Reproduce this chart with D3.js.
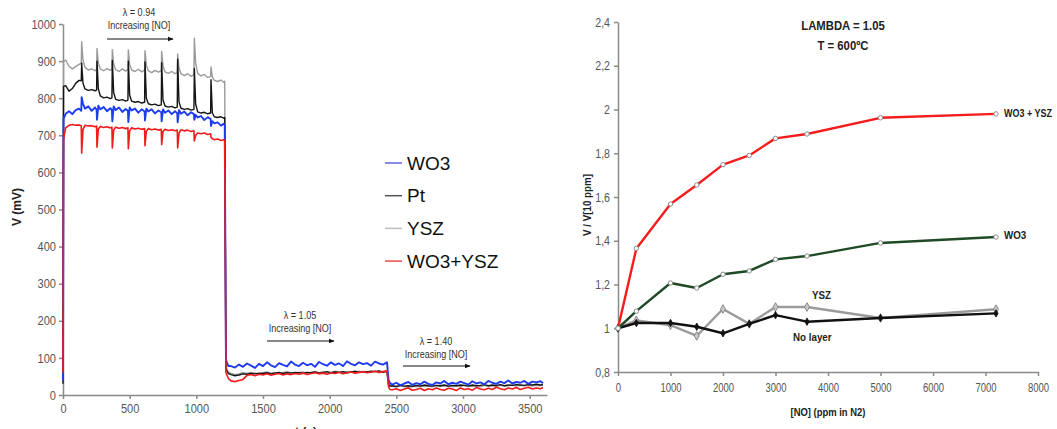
<!DOCTYPE html>
<html>
<head>
<meta charset="utf-8">
<script src="https://cdn.jsdelivr.net/npm/d3@7"></script>
<style>
  body { margin: 0; background: #fff; }
  svg { display: block; }
  .tickL text, .tickR text { font-family: "Liberation Sans", Arial, sans-serif; fill: #555; }
  .bold { font-family: "Liberation Sans", Arial, sans-serif; font-weight: bold; fill: #222; }
</style>
</head>
<body>
<div id="chart"></div>
<script>
// ---------- data: left panel (time trace, mV) ----------
var timeSec = [
  0, 4, 20, 45, 70, 95, 120, 137,
  140, 150, 165, 190, 215, 240, 252,
  255, 265, 280, 305, 330, 355, 367,
  370, 380, 395, 420, 445, 470, 487,
  490, 500, 515, 540, 565, 590, 612,
  615, 625, 640, 665, 690, 715, 737,
  740, 750, 765, 790, 815, 840, 857,
  860, 870, 885, 910, 935, 960, 982,
  985, 995, 1010, 1035, 1060, 1085, 1107,
  1110, 1120, 1135, 1160, 1185, 1205, 1213,
  1222, 1240,
  1260, 1290, 1320, 1350, 1380, 1410, 1440, 1470, 1500, 1530,
  1560, 1590, 1620, 1650, 1680, 1710, 1740, 1770, 1800, 1830,
  1860, 1890, 1920, 1950, 1980, 2010, 2040, 2070, 2100, 2130,
  2160, 2190, 2220, 2250, 2280, 2310, 2340, 2370, 2400, 2430,
  2442, 2452,
  2470, 2500, 2530, 2560, 2590, 2620, 2650, 2680, 2710, 2740,
  2770, 2800, 2830, 2860, 2890, 2920, 2950, 2980, 3010, 3040,
  3070, 3100, 3130, 3160, 3190, 3220, 3250, 3280, 3310, 3340,
  3370, 3400, 3430, 3460, 3490, 3520, 3550, 3580, 3600
];

var ysz = [
  60, 898, 903, 886, 879, 885, 891, 894,
  952, 903, 883, 876, 879, 874, 878,
  934, 894, 879, 874, 880, 875, 879,
  931, 892, 877, 872, 879, 873, 878,
  930, 891, 876, 872, 878, 871, 876,
  928, 889, 874, 869, 875, 870, 874,
  926, 887, 871, 867, 872, 866, 869,
  919, 882, 866, 861, 866, 859, 863,
  962, 894, 867, 860, 864, 856, 858,
  884, 857, 848, 845, 849, 843, 846,
  75, 62,
  58, 55, 57, 60, 58, 61, 59, 57, 60, 62,
  59, 61, 58, 60, 63, 60, 58, 61, 62, 59,
  61, 63, 60, 62, 59, 61, 64, 62, 60, 63,
  61, 62, 64, 61, 63, 62, 64, 63, 61, 63,
  30, 25,
  24, 22, 25, 23, 21, 24, 22, 25, 23, 24,
  22, 26, 23, 25, 24, 22, 25, 23, 26, 24,
  23, 25, 22, 26, 24, 25, 23, 26, 24, 25,
  27, 24, 26, 25, 27, 24, 26, 25, 27
];

var pt = [
  30, 832, 834, 819, 826, 840, 848, 847,
  895, 840, 825, 821, 823, 820, 822,
  900, 825, 806, 801, 803, 799, 801,
  902, 815, 797, 794, 796, 792, 795,
  900, 808, 792, 789, 791, 787, 789,
  898, 800, 785, 782, 784, 780, 782,
  896, 795, 779, 776, 778, 774, 776,
  905, 790, 773, 770, 772, 768, 770,
  880, 785, 763, 760, 762, 758, 760,
  850, 760, 750, 748, 750, 746, 748,
  70, 58,
  55, 52, 54, 57, 56, 58, 57, 59, 58, 60,
  57, 59, 61, 58, 60, 59, 61, 60, 58, 61,
  60, 62, 59, 61, 63, 60, 62, 61, 63, 60,
  62, 64, 61, 63, 62, 64, 63, 65, 62, 64,
  28, 24,
  25, 23, 26, 24, 25, 23, 26, 24, 27, 25,
  24, 26, 25, 27, 24, 26, 25, 27, 26, 24,
  27, 25, 26, 28, 25, 27, 26, 28, 25, 27,
  26, 28, 27, 26, 28, 27, 29, 27, 28
];

var wo3 = [
  40, 745, 758, 765, 757, 768, 772, 766,
  803, 785, 772, 778, 766, 775, 769,
  742, 780, 770, 776, 765, 773, 768,
  738, 778, 768, 775, 763, 771, 766,
  736, 775, 767, 772, 761, 770, 764,
  740, 772, 764, 770, 759, 767, 762,
  738, 770, 761, 767, 757, 765, 759,
  735, 768, 758, 764, 754, 762, 757,
  742, 755, 748, 752, 741, 749, 744,
  725, 738, 732, 735, 726, 731, 728,
  95, 78,
  78, 74, 82, 76, 85, 79, 73, 84, 78, 88,
  80, 75, 86, 81, 77, 90, 82, 78, 87, 80,
  84, 76, 89, 83, 79, 88, 81, 85, 78, 91,
  84, 80, 88, 83, 86, 79, 90, 85, 82, 88,
  40, 32,
  28, 33, 26, 31, 35, 27, 32, 29, 36, 30,
  27, 34, 31, 38, 29, 33, 30, 36, 32, 28,
  37, 31, 34, 29, 38, 33, 30, 36, 32, 39,
  31, 35, 33, 38, 30, 36, 34, 37, 32
];

var wo3ysz = [
  60, 690, 720, 727, 729, 727, 728, 726,
  652, 716, 727, 725, 726, 723, 725,
  668, 717, 724, 721, 723, 720, 722,
  666, 714, 722, 719, 721, 718, 720,
  664, 712, 720, 717, 719, 716, 718,
  672, 711, 718, 715, 717, 714, 716,
  675, 710, 716, 713, 715, 712, 714,
  666, 706, 715, 712, 714, 710, 712,
  685, 700, 706, 704, 706, 702, 704,
  695, 691, 688, 690, 686, 688, 687,
  60, 45,
  38, 36, 39, 42, 53, 55, 52, 56, 54, 57,
  53, 56, 58, 54, 57, 55, 58, 56, 59, 55,
  58, 60, 57, 59, 56, 60, 58, 61, 57, 60,
  62, 59, 61, 63, 60, 62, 64, 61, 63, 65,
  22, 15,
  14, 17, 12, 16, 19, 13, 15, 18, 12, 17,
  14, 19, 15, 13, 18, 16, 12, 19, 15, 17,
  13, 20, 16, 14, 18, 15, 21, 17, 14, 19,
  16, 20, 15, 18, 21, 16, 19, 17, 20
];

var leftTicksY = [0, 100, 200, 300, 400, 500, 600, 700, 800, 900, 1000];
var leftTicksX = [0, 500, 1000, 1500, 2000, 2500, 3000, 3500];
var legendNames = ["WO3", "Pt", "YSZ", "WO3+YSZ"];

// ---------- data: right panel (V / V[10 ppm]) ----------
var noPpm = [0, 350, 1000, 1500, 2000, 2500, 3000, 3600, 5000, 7200];
var ratioWo3Ysz = [1.0, 1.365, 1.568, 1.655, 1.748, 1.79, 1.868, 1.888, 1.962, 1.98];
var ratioWo3 = [1.0, 1.078, 1.207, 1.184, 1.247, 1.262, 1.315, 1.33, 1.39, 1.417];
var ratioYsz = [1.0, 1.036, 1.014, 0.965, 1.088, 1.02, 1.097, 1.097, 1.047, 1.087];
var ratioNoLayer = [1.0, 1.024, 1.024, 1.007, 0.977, 1.02, 1.06, 1.03, 1.047, 1.068];
var rightTicksY = [0.8, 1.0, 1.2, 1.4, 1.6, 1.8, 2.0, 2.2, 2.4];
var rightTicksX = [0, 1000, 2000, 3000, 4000, 5000, 6000, 7000, 8000];

var width = 1057, height = 429;

var svg = d3.select("#chart")
    .append("svg")
    .attr("width", width)
    .attr("height", height);

// squeeze text horizontally (no narrow font installed)
function narrow(sel, f) {
  sel.each(function() {
    var len = this.getComputedTextLength();
    d3.select(this)
        .attr("textLength", len * f)
        .attr("lengthAdjust", "spacingAndGlyphs");
  });
}

svg.append("defs").append("marker")
    .attr("id", "arrow")
    .attr("viewBox", "0 0 10 10")
    .attr("refX", 9).attr("refY", 5)
    .attr("markerWidth", 6).attr("markerHeight", 6)
    .attr("orient", "auto")
    .append("path")
    .attr("d", "M0,1 L10,5 L0,9 Z")
    .attr("fill", "#111");

// ================= LEFT PANEL =================
var xL = d3.scaleLinear().domain([0, 3630]).range([63, 547]);
var yL = d3.scaleLinear().domain([0, 1000]).range([395, 24]);

var gyL = svg.append("g")
    .attr("class", "tickL")
    .attr("transform", "translate(63,0)")
    .call(d3.axisLeft(yL).tickValues(leftTicksY).tickSize(4).tickSizeOuter(0)
      .tickFormat(d3.format("d")));
gyL.selectAll("text").attr("font-size", 13).attr("x", -7).call(narrow, 0.85);

var gxL = svg.append("g")
    .attr("class", "tickL")
    .attr("transform", "translate(0,395)")
    .call(d3.axisBottom(xL).tickValues(leftTicksX).tickSize(4).tickSizeOuter(0)
      .tickFormat(d3.format("d")));
gxL.selectAll("text").attr("font-size", 13).attr("y", 9).call(narrow, 0.85);

svg.selectAll(".tickL path, .tickL line").attr("stroke", "#8a8a8a").attr("stroke-width", 1.5);

// traces
var traceLine = d3.line()
    .x(function(d) { return xL(d[0]); })
    .y(function(d) { return yL(d[1]); });

var traces = [
  { vals: ysz, color: "#9a9a9a", w: 1.4 },
  { vals: pt, color: "#151515", w: 1.4 },
  { vals: wo3, color: "#1d3cf2", w: 1.9 },
  { vals: wo3ysz, color: "#f21a1a", w: 1.6 }
];

traces.forEach(function(tr) {
  var pts = timeSec.map(function(t, i) { return [t, tr.vals[i]]; });
  svg.append("path")
      .datum(pts)
      .attr("d", traceLine)
      .attr("fill", "none")
      .attr("stroke", tr.color)
      .attr("stroke-width", tr.w)
      .attr("stroke-linejoin", "round");
});

// axis titles
svg.append("text")
    .attr("class", "bold")
    .attr("transform", "translate(21,207) rotate(-90)")
    .attr("text-anchor", "middle")
    .attr("font-size", 12)
    .text("V (mV)");

// the x title sits mostly below the bottom edge, as in the source image
svg.append("text")
    .attr("class", "bold")
    .attr("x", 306).attr("y", 436)
    .attr("text-anchor", "middle")
    .attr("font-size", 12)
    .text("t (s)");

// annotations (lambda + arrow)
var notes = [
  { lam: "λ = 0.94", x: 139, y: 16, ax0: 107, ax1: 173, ay: 39 },
  { lam: "λ = 1.05", x: 300, y: 319, ax0: 267, ax1: 334, ay: 341 },
  { lam: "λ = 1.40", x: 436, y: 345, ax0: 403, ax1: 470, ay: 366 }
];

notes.forEach(function(n) {
  var g = svg.append("g").attr("font-family", "'Liberation Sans', Arial, sans-serif")
      .attr("font-size", 10.5).attr("fill", "#333").attr("text-anchor", "middle");
  g.append("text").attr("x", n.x).attr("y", n.y).text(n.lam);
  g.append("text").attr("x", n.x).attr("y", n.y + 13).text("Increasing [NO]");
  g.selectAll("text").call(narrow, 0.86);
  svg.append("line")
      .attr("x1", n.ax0).attr("x2", n.ax1)
      .attr("y1", n.ay).attr("y2", n.ay)
      .attr("stroke", "#111").attr("stroke-width", 1)
      .attr("marker-end", "url(#arrow)");
});

// legend
var legendColors = ["#6464e6", "#555555", "#bdbdbd", "#ec4a4a"];
var legend = svg.append("g").attr("transform", "translate(385,163)");
legend.append("rect")
    .attr("x", -6).attr("y", -16).attr("width", 120).attr("height", 128)
    .attr("fill", "#fff");
legendNames.forEach(function(name, i) {
  legend.append("line")
      .attr("x1", 0).attr("x2", 17)
      .attr("y1", i * 32.7).attr("y2", i * 32.7)
      .attr("stroke", legendColors[i]).attr("stroke-width", 1.5);
  legend.append("text")
      .attr("x", 22).attr("y", i * 32.7)
      .attr("dy", "0.35em")
      .attr("font-family", "'Liberation Sans', Arial, sans-serif")
      .attr("font-size", 19)
      .attr("fill", "#111")
      .text(name);
});

// ================= RIGHT PANEL =================
var xR = d3.scaleLinear().domain([0, 8000]).range([618, 1038]);
var yR = d3.scaleLinear().domain([0.8, 2.4]).range([372, 22]);

var gyR = svg.append("g")
    .attr("class", "tickR")
    .attr("transform", "translate(618,0)")
    .call(d3.axisLeft(yR).tickValues(rightTicksY).tickSize(4).tickSizeOuter(0)
      .tickFormat(function(d) { return String(+d.toFixed(1)).replace(".", ","); }));
gyR.selectAll("text").attr("font-size", 12.5).attr("x", -8).call(narrow, 0.85);

var gxR = svg.append("g")
    .attr("class", "tickR")
    .attr("transform", "translate(0,372)")
    .call(d3.axisBottom(xR).tickValues(rightTicksX).tickSize(4).tickSizeOuter(0)
      .tickFormat(d3.format("d")));
gxR.selectAll("text").attr("font-size", 12.5).attr("y", 11).call(narrow, 0.76);

svg.selectAll(".tickR path, .tickR line").attr("stroke", "#8a8a8a").attr("stroke-width", 1.5);

var ratioLine = d3.line()
    .x(function(d) { return xR(d[0]); })
    .y(function(d) { return yR(d[1]); });

var ratioSeries = [
  { vals: ratioYsz, color: "#9b9b9b", marker: "diamond" },
  { vals: ratioNoLayer, color: "#111111", marker: "diamondDark" },
  { vals: ratioWo3, color: "#1e4a25", marker: "circle" },
  { vals: ratioWo3Ysz, color: "#f51c1c", marker: "circle" }
];

ratioSeries.forEach(function(s) {
  var pts = noPpm.map(function(p, i) { return [p, s.vals[i]]; });
  svg.append("path")
      .datum(pts)
      .attr("d", ratioLine)
      .attr("fill", "none")
      .attr("stroke", s.color)
      .attr("stroke-width", 2.4)
      .attr("stroke-linejoin", "round");

  if (s.marker === "circle") {
    svg.selectAll(null).data(pts).enter()
        .append("circle")
        .attr("cx", function(d) { return xR(d[0]); })
        .attr("cy", function(d) { return yR(d[1]); })
        .attr("r", 2.2)
        .attr("fill", "#fff")
        .attr("stroke", "#8c8c8c")
        .attr("stroke-width", 1);
  } else {
    svg.selectAll(null).data(pts).enter()
        .append("path")
        .attr("transform", function(d) { return "translate(" + xR(d[0]) + "," + yR(d[1]) + ")"; })
        .attr("d", d3.symbol().type(d3.symbolDiamond).size(s.marker === "diamond" ? 22 : 16))
        .attr("fill", s.marker === "diamond" ? "#c8c8c8" : "#111")
        .attr("stroke", s.marker === "diamond" ? "#777" : "#111")
        .attr("stroke-width", 0.8);
  }
});

// series labels
var seriesLabels = [
  { text: "WO3 + YSZ", x: 1004, y: 117, f: 0.78 },
  { text: "WO3", x: 1004, y: 239, f: 0.85 },
  { text: "YSZ", x: 812, y: 299, f: 0.85 },
  { text: "No layer", x: 793, y: 341, f: 0.85 }
];
seriesLabels.forEach(function(l) {
  svg.append("text")
      .attr("class", "bold")
      .attr("x", l.x).attr("y", l.y)
      .attr("font-size", 11.5)
      .text(l.text)
      .call(narrow, l.f);
});

// title
svg.append("text").attr("class", "bold")
    .attr("x", 843).attr("y", 30).attr("text-anchor", "middle")
    .attr("font-size", 13).text("LAMBDA = 1.05").call(narrow, 0.87);
svg.append("text").attr("class", "bold")
    .attr("x", 843).attr("y", 50).attr("text-anchor", "middle")
    .attr("font-size", 13).text("T = 600ºC").call(narrow, 0.87);

// axis titles
svg.append("text").attr("class", "bold")
    .attr("transform", "translate(591,205) rotate(-90)")
    .attr("text-anchor", "middle")
    .attr("font-size", 11.5)
    .text("V / V[10 ppm]")
    .call(narrow, 0.85);

svg.append("text").attr("class", "bold")
    .attr("x", 828).attr("y", 416).attr("text-anchor", "middle")
    .attr("font-size", 11.5)
    .text("[NO] (ppm in N2)")
    .call(narrow, 0.82);
</script>
</body>
</html>
